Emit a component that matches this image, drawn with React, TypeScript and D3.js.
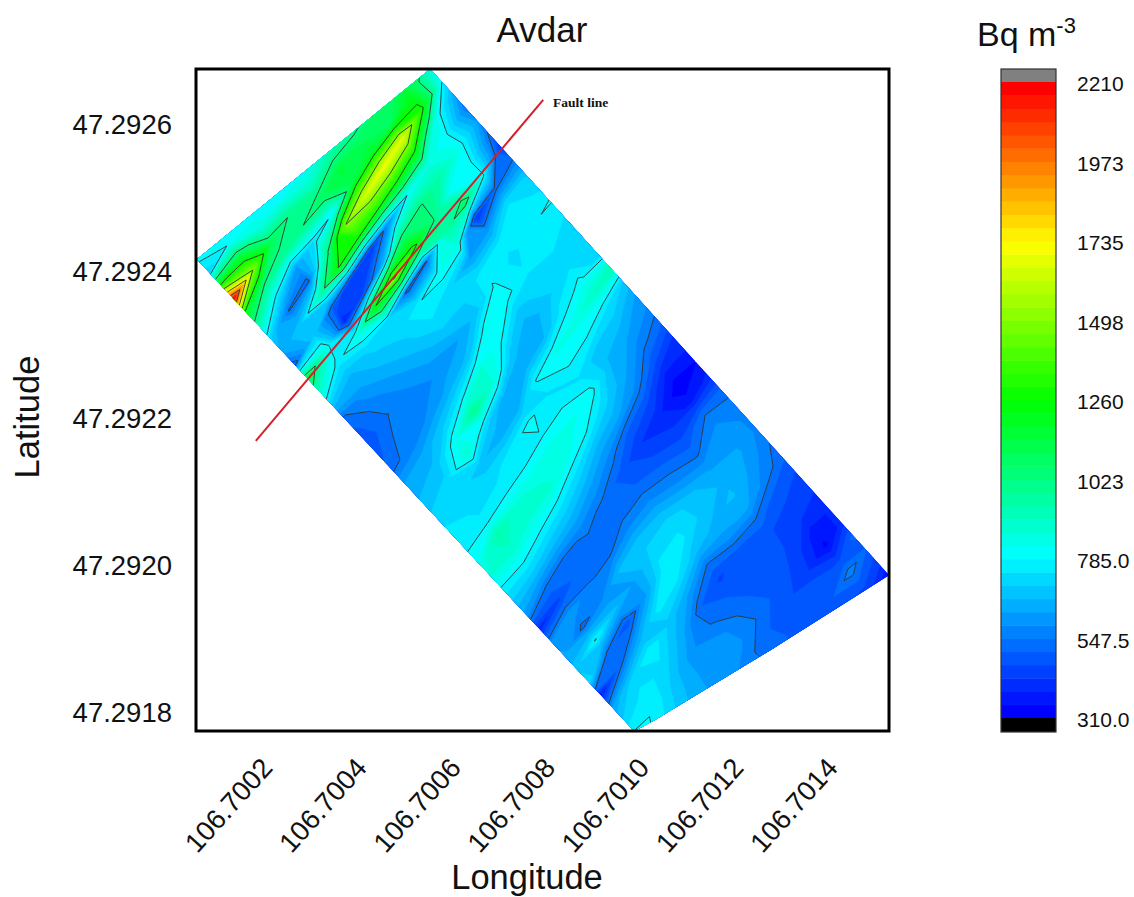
import * as d3 from "d3";

const lonTicks = [106.7002, 106.7004, 106.7006, 106.7008, 106.701, 106.7012, 106.7014];
const latTicks = [47.2926, 47.2924, 47.2922, 47.292, 47.2918];
const legendTicks = [2210, 1972.5, 1735, 1497.5, 1260, 1022.5, 785, 547.5, 310];
const legendLabels = ["2210", "1973", "1735", "1498", "1260", "1023", "785.0", "547.5", "310.0"];
const colorStops = [310, 785, 1260, 1735, 2210];
const colorNames = ["#0000ff", "#00ffff", "#00ff00", "#ffff00", "#ff0000"];

// survey outline
const outlineLon = [106.700062, 106.700557, 106.701531, 106.701279, 106.701034, 106.70099];
const outlineLat = [47.292416, 47.292675, 47.291986, 47.291884, 47.291789, 47.291774];
const faultLon = [106.700187, 106.700797];
const faultLat = [47.292169, 47.292633];

const radon = [
  [800, 800, 800, 800, 800, 800, 800, 800, 800, 800],
  [720, 790, 800, 800, 800, 800, 800, 800, 800, 800],
  [1300, 1150, 850, 800, 800, 800, 800, 800, 800, 800],
  [2200, 1500, 1090, 1010, 880, 950, 950, 950, 950, 950],
  [1200, 1020, 980, 1020, 1090, 1150, 1080, 1100, 1100, 1100],
  [950, 760, 620, 750, 800, 1130, 1180, 1100, 1200, 850],
  [720, 540, 530, 1000, 1500, 1650, 1700, 1680, 1300, 800],
  [640, 700, 950, 1280, 1280, 1300, 1300, 1250, 850, 650],
  [520, 700, 500, 430, 430, 600, 800, 850, 800, 560],
  [1150, 850, 400, 470, 650, 1020, 1030, 950, 830, 620],
  [900, 760, 850, 1260, 1520, 1300, 1030, 800, 790, 530],
  [700, 660, 720, 720, 520, 540, 950, 1100, 800, 420],
  [540, 620, 680, 720, 780, 820, 850, 420, 530, 560],
  [500, 570, 630, 690, 750, 720, 620, 620, 740, 700],
  [480, 545, 590, 640, 700, 710, 760, 770, 780, 730],
  [500, 570, 555, 600, 620, 680, 790, 730, 780, 790],
  [540, 560, 600, 640, 680, 830, 800, 750, 760, 750],
  [630, 640, 700, 770, 870, 800, 690, 730, 740, 700],
  [660, 680, 820, 1000, 870, 680, 640, 700, 740, 720],
  [700, 720, 880, 720, 640, 640, 660, 760, 800, 700],
  [740, 730, 680, 640, 650, 790, 830, 840, 900, 950],
  [760, 740, 730, 760, 800, 740, 790, 790, 750, 700],
  [780, 750, 770, 770, 780, 780, 740, 680, 680, 620],
  [820, 950, 870, 850, 850, 830, 800, 660, 620, 580],
  [870, 900, 870, 880, 830, 790, 720, 640, 560, 520],
  [770, 800, 780, 760, 720, 660, 640, 580, 480, 430],
  [690, 690, 670, 660, 620, 570, 500, 470, 380, 400],
  [600, 540, 530, 560, 540, 490, 430, 400, 320, 350],
  [400, 460, 530, 520, 510, 510, 470, 430, 370, 400],
  [600, 620, 550, 540, 580, 570, 530, 480, 540, 500],
  [640, 530, 580, 680, 690, 660, 590, 540, 590, 560],
  [680, 790, 680, 620, 720, 740, 680, 620, 620, 570],
  [750, 530, 480, 620, 770, 750, 690, 660, 630, 570],
  [380, 530, 640, 760, 750, 680, 660, 670, 610, 540],
  [640, 720, 780, 690, 620, 540, 610, 640, 570, 520],
  [720, 760, 730, 640, 510, 460, 500, 530, 490, 470],
  [810, 770, 680, 590, 540, 500, 480, 470, 460, 450],
  [800, 730, 660, 600, 590, 520, 480, 470, 430, 420],
  [700, 700, 640, 610, 600, 545, 490, 460, 370, 400],
  [620, 620, 620, 600, 560, 510, 480, 440, 340, 420],
  [560, 560, 560, 560, 560, 520, 480, 500, 450, 540],
  [500, 500, 500, 500, 500, 500, 480, 500, 570, 500],
  [480, 480, 480, 480, 480, 480, 480, 460, 480, 440],
  [400, 400, 400, 400, 400, 400, 400, 400, 400, 330],
];

// transect grid, in degrees
const gridLon0 = 106.700062;
const gridLat0 = 47.292416;
const transectStep = [0.00002599, -0.00001796];
const alongStep = [0.00004013, 0.00003891];

const bandCount = 48;
const vMin = 310;
const vMax = 2210;
const font = "'Liberation Sans', Arial, sans-serif";

export default function App() {
  const x = d3.scaleLinear().domain([106.70006, 106.701531]).range([196, 889]);
  const y = d3.scaleLinear().domain([47.292675, 47.291774]).range([69, 731]);
  const rainbow = d3.scaleLinear<string>().domain(colorStops).range(colorNames);
  const legendY = d3.scaleLinear().domain([vMin, vMax]).range([718, 82]);

  const step = (vMax - vMin) / bandCount;
  const bands = d3.range(bandCount).map((k) => ({
    low: vMin + k * step,
    color: rainbow(vMin + (k * (vMax - vMin)) / (bandCount - 1)),
  }));

  const nx = radon.length;
  const ny = radon[0].length;
  const flat: number[] = [];
  for (let j = 0; j < ny; j++) for (let i = 0; i < nx; i++) flat.push(radon[i][j]);

  const project = d3.geoTransform({
    point(gx, gy) {
      const i = gx - 0.5;
      const j = gy - 0.5;
      const lon = gridLon0 + i * transectStep[0] + j * alongStep[0];
      const lat = gridLat0 + i * transectStep[1] + j * alongStep[1];
      this.stream.point(x(lon), y(lat));
    },
  });
  const path = d3.geoPath(project);
  const contour = d3.contours().size([nx, ny]).smooth(true);

  const outline = outlineLon.map((d, i) => [x(d), y(outlineLat[i])] as [number, number]);
  const outlinePath = d3.line()(outline) + "Z";
  const lineLevels = legendTicks.filter((d) => d > vMin && d < vMax);

  return (
    <svg width={1134} height={897} style={{ position: "absolute", left: 0, top: 0, background: "#fff" }} fontFamily={font}>
      <defs>
        <clipPath id="survey"><path d={outlinePath} /></clipPath>
      </defs>
      <g clipPath="url(#survey)">
        <path d={outlinePath} fill={bands[0].color} />
        {bands.map((b) => (
          <path key={b.low} d={path(contour.contour(flat, b.low)) ?? ""} fill={b.color} stroke={b.color} strokeWidth={0.4} />
        ))}
        {lineLevels.map((t) => (
          <path key={t} d={path(contour.contour(flat, t)) ?? ""} fill="none" stroke="#333" strokeWidth={0.9} />
        ))}
      </g>
      <line x1={x(faultLon[0])} y1={y(faultLat[0])} x2={x(faultLon[1])} y2={y(faultLat[1])} stroke="#d4202c" strokeWidth={2} />
      <text x={553} y={107} fontFamily="'Liberation Serif', serif" fontWeight="bold" fontSize={13.5} fill="#111">Fault line</text>
      <rect x={196} y={69} width={693} height={662} fill="none" stroke="#000" strokeWidth={3} />

      {latTicks.map((d) => (
        <text key={d} x={172} y={y(d) + 10} textAnchor="end" fontSize={27.5} fill="#111">{d.toFixed(4)}</text>
      ))}
      {lonTicks.map((d) => (
        <text key={d} transform={`translate(${x(d) + 12},769) rotate(-48)`} textAnchor="end" fontSize={27.5} fill="#111">{d.toFixed(4)}</text>
      ))}

      <text x={542} y={42} textAnchor="middle" fontSize={35} fill="#111">Avdar</text>
      <text x={527} y={889} textAnchor="middle" fontSize={34.5} fill="#111">Longitude</text>
      <text transform="translate(39,417) rotate(-90)" textAnchor="middle" fontSize={34.5} fill="#111">Latitude</text>
      <text x={977} y={46} fontSize={34} fill="#111">Bq m<tspan dy={-13} fontSize={22}>-3</tspan></text>

      <rect x={1001} y={69} width={55} height={13} fill="#808080" />
      {bands.map((b) => (
        <rect key={b.low} x={1001} y={legendY(b.low + step)} width={55} height={legendY(b.low) - legendY(b.low + step) + 0.5} fill={b.color} />
      ))}
      <rect x={1001} y={718} width={55} height={14} fill="#000" />
      <rect x={1001} y={69} width={55} height={663} fill="none" stroke="#333" strokeWidth={1.2} />
      {legendTicks.map((d, i) => (
        <text key={d} x={1077} y={legendY(d) + 9} fontSize={21} fill="#111">{legendLabels[i]}</text>
      ))}
    </svg>
  );
}
